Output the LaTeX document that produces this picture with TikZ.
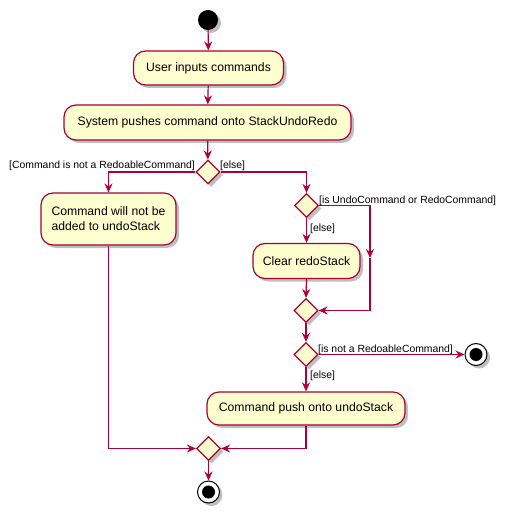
\documentclass[tikz,border=0pt]{standalone}
\usepackage{fontspec}
\setmainfont{Liberation Sans}
\usetikzlibrary{shapes.geometric,arrows.meta,shadows}
\definecolor{umlfill}{HTML}{FEFECE}
\definecolor{umlline}{HTML}{A80036}
\begin{document}
\begin{tikzpicture}[x=1pt,y=-1pt,
  act/.style={draw=umlline,fill=umlfill,line width=1.2pt,rounded corners=12pt,inner sep=0pt,
    font=\fontsize{12.2}{15}\selectfont,align=left,
    drop shadow={shadow xshift=3pt,shadow yshift=-3pt,opacity=0.25,fill=black}},
  dec/.style={diamond,draw=umlline,fill=umlfill,line width=1.2pt,inner sep=0pt,minimum width=24pt,minimum height=24pt,
    drop shadow={shadow xshift=3pt,shadow yshift=-3pt,opacity=0.25,fill=black}},
  flow/.style={draw=umlline,line width=1.2pt,-{Stealth[length=9pt,width=8pt,inset=3pt]}},
  lbl/.style={font=\fontsize{10.4}{13}\selectfont,inner sep=0pt}
]
\useasboundingbox (0,0) rectangle (506,518);
% start
\node[circle,fill=black,minimum size=20pt,inner sep=0pt,
  drop shadow={shadow xshift=3pt,shadow yshift=-3pt,opacity=0.25,fill=black}] (start) at (208,20) {};
\node[act,minimum width=150pt,minimum height=34pt] (a1) at (208.5,68) {User inputs commands};
\node[act,minimum width=287pt,minimum height=35pt] (a2) at (207.5,122.5) {System pushes command onto StackUndoRedo};
\node[dec] (d1) at (208,172) {};
\node[act,minimum width=135pt,minimum height=52pt] (a3) at (108.5,219) {Command will not be\\added to undoStack};
\node[dec] (d2) at (306.5,205.5) {};
\node[act,minimum width=107pt,minimum height=35pt] (a4) at (306.5,261) {Clear redoStack};
\node[dec] (d3) at (306,310.5) {};
\node[dec] (d4) at (306,354.5) {};
\node[circle,draw=black,fill=white,line width=1pt,minimum size=22pt,inner sep=0pt,
  drop shadow={shadow xshift=3pt,shadow yshift=-3pt,opacity=0.25,fill=black}] (e1) at (476,354.5) {};
\fill[black] (e1.center) circle (6.5pt);
\node[act,minimum width=198pt,minimum height=33pt] (a5) at (306,408.5) {Command push onto undoStack};
\node[dec] (d5) at (208.5,448.5) {};
\node[circle,draw=black,fill=white,line width=1pt,minimum size=22pt,inner sep=0pt,
  drop shadow={shadow xshift=3pt,shadow yshift=-3pt,opacity=0.25,fill=black}] (e2) at (208.5,492) {};
\fill[black] (e2.center) circle (6.5pt);

\coordinate (r1) at (370,258);

% connectors
\draw[flow] (start) -- (a1);
\draw[flow] (a1) -- (a2);
\draw[flow] (a2) -- (d1);
\draw[flow] (d1.west) -| (a3.north);
\draw[flow] (d1.east) -| (d2.north);
\draw[flow] (d2.south) -- (a4.north);
\draw[flow] (d2.east) -| (r1);
\draw[flow] (r1) |- (d3.east);
\draw[flow] (a4.south) -- (d3.north);
\draw[flow] (d3.south) -- (d4.north);
\draw[flow] (d4.east) -- (e1.west);
\draw[flow] (d4.south) -- (a5.north);
\draw[flow] (a3.south) |- (d5.west);
\draw[flow] (a5.south) |- (d5.east);
\draw[flow] (d5.south) -- (e2.north);

% labels
\node[lbl,anchor=base east] (l1) at (195,169) {[Command is not a RedoableCommand]};
\node[lbl,anchor=base west] (l2) at (220,169) {[else]};
\node[lbl,anchor=base west] (l3) at (319,204) {[is UndoCommand or RedoCommand]};
\node[lbl,anchor=base west] (l4) at (310,231) {[else]};
\node[lbl,anchor=base west] (l5) at (318,352) {[is not a RedoableCommand]};
\node[lbl,anchor=base west] (l6) at (310,378) {[else]};
\end{tikzpicture}
\end{document}
